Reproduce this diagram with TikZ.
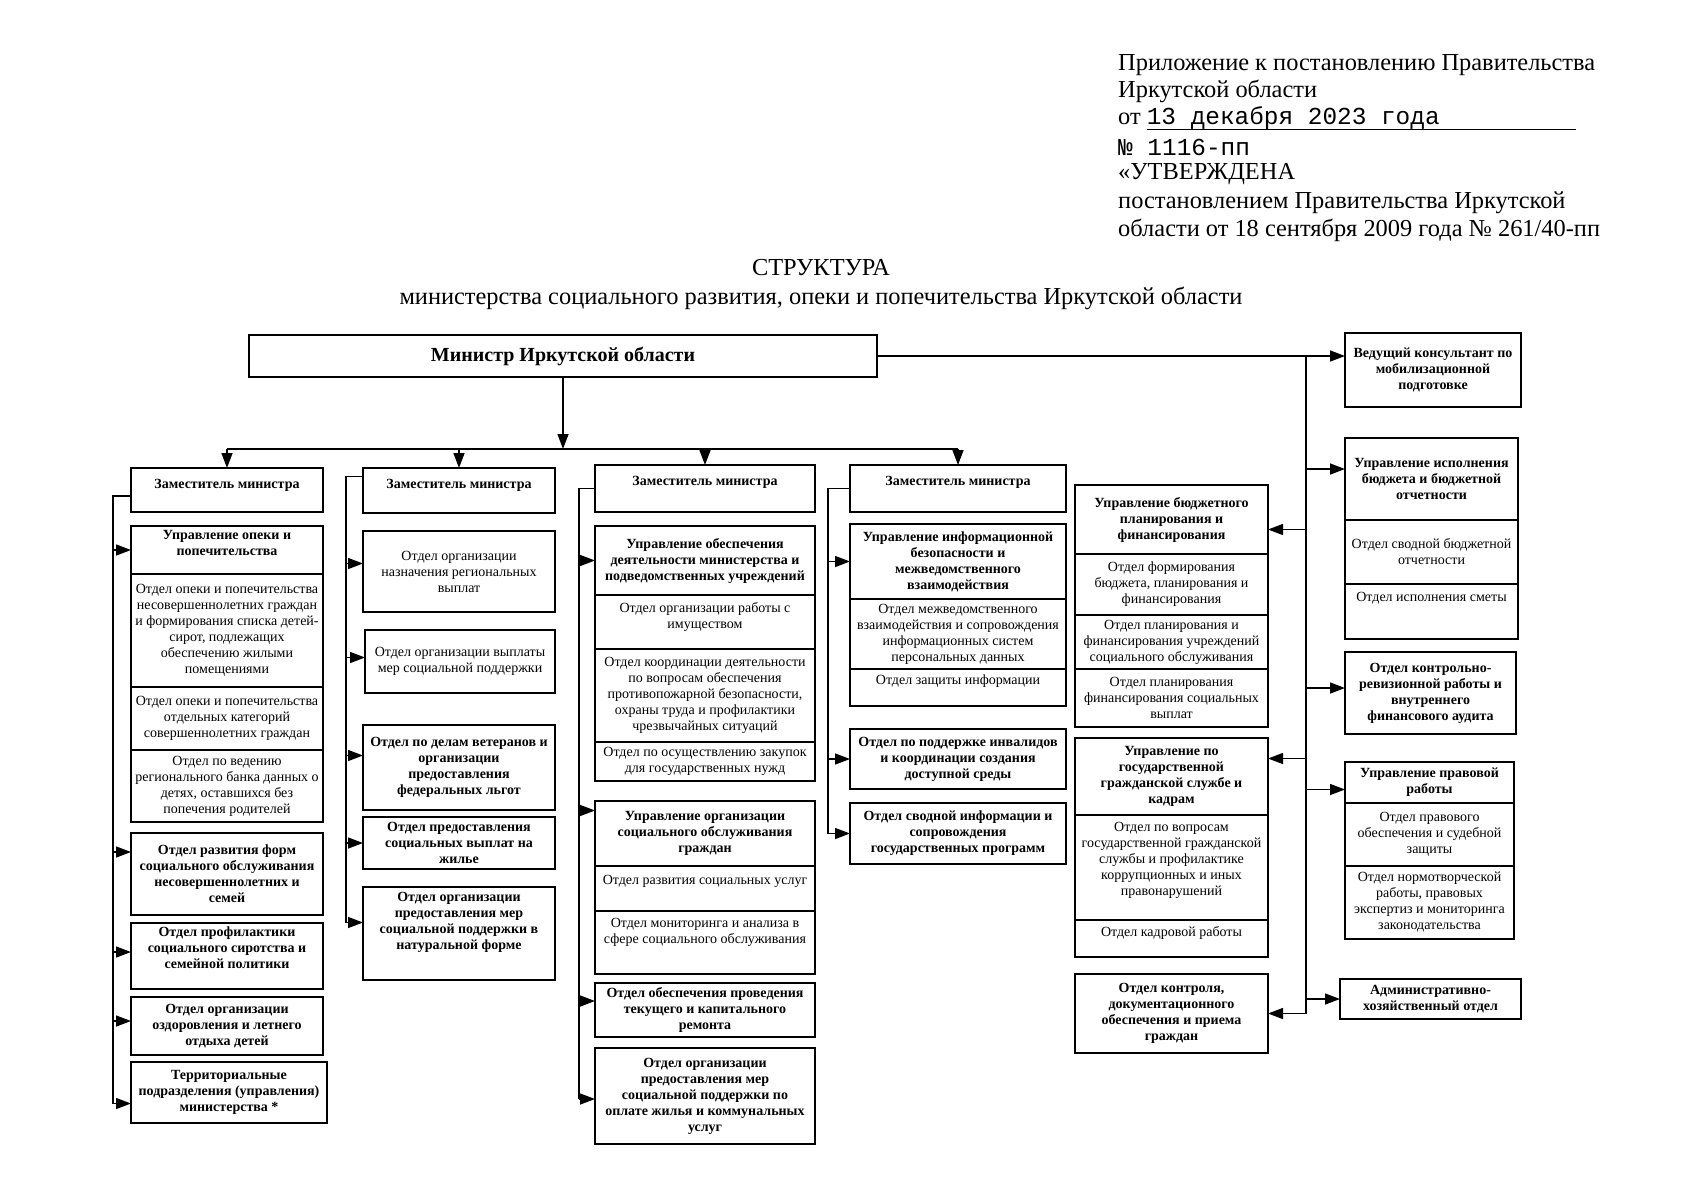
\documentclass[tikz,border=0pt]{standalone}
\usepackage{fontspec}
\setmainfont{Liberation Serif}
\setmonofont{Liberation Mono}
\usetikzlibrary{arrows.meta,calc}
\newcommand\mycell[7][]{%
  \node[bx,minimum width={#5-#3},minimum height={#6-#4}] (#2) at (#3,#4) {};
  \node[tx,#1] (#2t) at (#2.center) {#7};}
\newcommand\mytcell[8][]{%
  \node[bx,minimum width={#5-#3},minimum height={#6-#4}] (#2) at (#3,#4) {};
  \node[tx,#1,anchor=north] (#2t) at ([yshift=-#7pt]#2.north) {#8};}
\newcommand\brr[3]{\path ([yshift=#3pt]#2.west) coordinate (#2e); \draw[arr] (#1 |- #2e) -- (#2e);}
\newcommand\brl[3]{\path ([yshift=#3pt]#2.east) coordinate (#2e); \draw[arr] (#1 |- #2e) -- (#2e);}
\begin{document}
\begin{tikzpicture}[x=1pt,y=-1pt,
  bx/.style={draw,line width=1.4pt,rectangle,inner sep=0pt,outer sep=0pt,anchor=north west},
  tx/.style={align=center,inner sep=0pt,font=\fontsize{14}{16}\selectfont},
  bf/.style={font=\fontsize{14}{16}\selectfont\bfseries},
  hd/.style={anchor=base west,inner sep=0pt,font=\fontsize{24.4}{28}\selectfont},
  ln/.style={line width=1.4pt},
  arr/.style={ln,-{Triangle[length=15pt,width=11pt]}}]
\useasboundingbox (0,0) rectangle (1697,1200);

% header
\node[hd] (h1) at (1118,70) {Приложение к постановлению Правительства};
\node[hd] (h2) at (1118,97) {Иркутской области};
\node[hd] (h3) at (1118,124) {от \texttt{13 декабря 2023 года}};
\draw[line width=0.8pt] ($(h3.base west)+(29,5)$) -- ++(429,0);
\node[hd] (h4) at (1118,155) {\texttt{№ 1116-пп}};
\node[hd] (h5) at (1118,179) {«УТВЕРЖДЕНА};
\node[hd] (h6) at (1118,208) {постановлением Правительства Иркутской};
\node[hd] (h7) at (1118,236) {области от 18 сентября 2009 года № 261/40-пп};

\node[anchor=base,inner sep=0pt,font=\fontsize{24.4}{28}\selectfont] (t1) at (821,275) {СТРУКТУРА};
\node[anchor=base,inner sep=0pt,font=\fontsize{24.4}{28}\selectfont] (t2) at (821,304) {министерства социального развития, опеки и попечительства Иркутской области};

\node[bx,line width=2.2pt,minimum width=628,minimum height=42,font=\fontsize{20}{24}\selectfont\bfseries] (min) at (249,335) {Министр Иркутской области};

% column 1
\mytcell[bf]{zam1}{131}{468}{323}{512}{11}{Заместитель министра}
\mytcell[bf]{c1h}{131}{526}{323}{574}{4}{Управление опеки и\\попечительства}
\mycell{c1a}{131}{574}{323}{687}{Отдел опеки и попечительства\\несовершеннолетних граждан\\и формирования списка детей-\\сирот, подлежащих\\обеспечению жилыми\\помещениями}
\mycell{c1b}{131}{687}{323}{750}{Отдел опеки и попечительства\\отдельных категорий\\совершеннолетних граждан}
\mycell{c1c}{131}{750}{323}{822}{Отдел по ведению\\регионального банка данных о\\детях, оставшихся без\\попечения родителей}
\mycell[bf]{c1d}{131}{833}{323}{915}{Отдел развития форм\\социального обслуживания\\несовершеннолетних и\\семей}
\mytcell[bf]{c1e}{131}{923}{323}{989}{4}{Отдел профилактики\\социального сиротства и\\семейной политики}
\mycell[bf]{c1f}{131}{997}{323}{1055}{Отдел организации\\оздоровления и летнего\\отдыха детей}
\mycell[bf]{c1g}{131}{1062}{327}{1123}{Территориальные\\подразделения (управления)\\министерства *}

% column 2
\mytcell[bf]{zam2}{363}{468}{555}{513}{11}{Заместитель министра}
\mycell{c2a}{363}{531}{555}{612}{Отдел организации\\назначения региональных\\выплат}
\mycell{c2b}{365}{630}{555}{693}{Отдел организации выплаты\\мер социальной поддержки}
\mycell[bf]{c2c}{363}{725}{555}{810}{Отдел по делам ветеранов и\\организации\\предоставления\\федеральных льгот}
\mycell[bf]{c2d}{363}{817}{555}{869}{Отдел предоставления\\социальных выплат на\\жилье}
\mytcell[bf]{c2e}{363}{887}{555}{980}{5}{Отдел организации\\предоставления мер\\социальной поддержки в\\натуральной форме}

% column 3
\mytcell[bf]{zam3}{595}{465}{815}{512}{11}{Заместитель министра}
\mycell[bf]{c3h}{595}{526}{815}{595}{Управление обеспечения\\деятельности министерства и\\подведомственных учреждений}
\mytcell{c3a}{595}{595}{815}{649}{7}{Отдел организации работы с\\имуществом}
\mycell{c3b}{595}{649}{815}{742}{Отдел координации деятельности\\по вопросам обеспечения\\противопожарной безопасности,\\охраны труда и профилактики\\чрезвычайных ситуаций}
\mycell{c3c}{595}{742}{815}{781}{Отдел по осуществлению закупок\\для государственных нужд}
\mycell[bf]{c3i}{595}{801}{815}{866}{Управление организации\\социального обслуживания\\граждан}
\mytcell{c3j}{595}{866}{815}{911}{9}{Отдел развития социальных услуг}
\mytcell{c3k}{595}{911}{815}{974}{7}{Отдел мониторинга и анализа в\\сфере социального обслуживания}
\mycell[bf]{c3l}{595}{983}{815}{1037}{Отдел обеспечения проведения\\текущего и капитального\\ремонта}
\mycell[bf]{c3m}{595}{1048}{815}{1144}{Отдел организации\\предоставления мер\\социальной поддержки по\\оплате жилья и коммунальных\\услуг}

% column 4
\mytcell[bf]{zam4}{850}{465}{1066}{512}{11}{Заместитель министра}
\mycell[bf]{c4h}{850}{524}{1066}{599}{Управление информационной\\безопасности и\\межведомственного\\взаимодействия}
\mycell{c4a}{850}{599}{1066}{669}{Отдел межведомственного\\взаимодействия и сопровождения\\информационных систем\\персональных данных}
\mytcell{c4b}{850}{669}{1066}{706}{6}{Отдел защиты информации}
\mycell[bf]{c4c}{850}{729}{1066}{789}{Отдел по поддержке инвалидов\\и координации создания\\доступной среды}
\mycell[bf]{c4d}{850}{803}{1066}{864}{Отдел сводной информации и\\сопровождения\\государственных программ}

% column 5
\mycell[bf]{c5h}{1075}{485}{1268}{554}{Управление бюджетного\\планирования и\\финансирования}
\mycell{c5a}{1075}{554}{1268}{615}{Отдел формирования\\бюджета, планирования и\\финансирования}
\mycell{c5b}{1075}{615}{1268}{669}{Отдел планирования и\\финансирования учреждений\\социального обслуживания}
\mycell{c5c}{1075}{669}{1268}{727}{Отдел планирования\\финансирования социальных\\выплат}
\mycell[bf]{c5i}{1075}{738}{1268}{815}{Управление по\\государственной\\гражданской службе и\\кадрам}
\mytcell{c5j}{1075}{815}{1268}{920}{7}{Отдел по вопросам\\государственной гражданской\\службы и профилактике\\коррупционных и иных\\правонарушений}
\mytcell{c5k}{1075}{920}{1268}{957}{6}{Отдел кадровой работы}
\mycell[bf]{c5l}{1075}{974}{1268}{1053}{Отдел контроля,\\документационного\\обеспечения и приема\\граждан}

% column 6
\mycell[bf]{c6a}{1345}{333}{1521}{407}{Ведущий консультант по\\мобилизационной\\подготовке}
\mycell[bf]{c6h}{1345}{438}{1518}{520}{Управление исполнения\\бюджета и бюджетной\\отчетности}
\mycell{c6b}{1345}{520}{1518}{584}{Отдел сводной бюджетной\\отчетности}
\mytcell{c6c}{1345}{584}{1518}{639}{8}{Отдел исполнения сметы}
\mycell[bf]{c6d}{1345}{652}{1516}{734}{Отдел контрольно-\\ревизионной работы и\\внутреннего\\финансового аудита}
\mycell[bf]{c6i}{1345}{762}{1514}{803}{Управление правовой\\работы}
\mycell{c6j}{1345}{803}{1514}{866}{Отдел правового\\обеспечения и судебной\\защиты}
\mycell{c6k}{1345}{866}{1514}{939}{Отдел нормотворческой\\работы, правовых\\экспертиз и мониторинга\\законодательства}
\mycell[bf]{c6l}{1340}{979}{1521}{1019}{Административно-\\хозяйственный отдел}

% minister to deputies
\coordinate (bar) at (563,449);
\draw[arr] (min.south) -- (min.south |- bar);
\draw[ln] (zam1.north |- bar) -- (zam4.north |- bar);
\foreach \z in {zam1,zam2,zam3,zam4} \draw[arr] (\z.north |- bar) -- (\z.north);

% column trunks
\coordinate (k1) at (113,0);
\coordinate (k2) at (346,0);
\coordinate (k3) at (579,0);
\coordinate (k4) at (828,0);
\coordinate (kr) at (1306,0);

\brr{k1}{c1h}{0} \brr{k1}{c1d}{22} \brr{k1}{c1e}{4} \brr{k1}{c1f}{5} \brr{k1}{c1g}{-11}
\path ([yshift=-6pt]zam1.west) coordinate (s1);
\draw[ln] (s1) -| (k1 |- c1ge);

\brr{k2}{c2a}{8} \brr{k2}{c2b}{4} \brr{k2}{c2c}{12} \brr{k2}{c2d}{0} \brr{k2}{c2e}{11}
\path ([yshift=14pt]zam2.west) coordinate (s2);
\draw[ln] (s2) -| (k2 |- c2ee);

\brr{k3}{c3h}{0} \brr{k3}{c3i}{23} \brr{k3}{c3l}{9} \brr{k3}{c3m}{-3}
\draw[ln] (zam3.west) -| (k3 |- c3me);

\brr{k4}{c4h}{0} \brr{k4}{c4c}{0} \brr{k4}{c4d}{0}
\draw[ln] (zam4.west) -| (k4 |- c4de);

% right trunk
\brr{kr}{c6h}{10} \brr{kr}{c6d}{5} \brr{kr}{c6i}{-7} \brr{kr}{c6l}{0}
\brl{kr}{c5h}{-10} \brl{kr}{c5i}{18} \brl{kr}{c5l}{0}
\draw[ln] (min.east) -| (kr |- c5le);
\draw[arr] (kr |- min.east) -- (c6a.west |- min.east);
\end{tikzpicture}
\end{document}
